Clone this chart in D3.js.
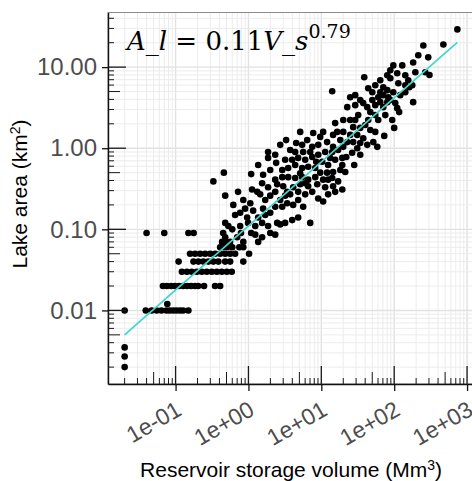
<!DOCTYPE html>
<html>
<head>
<meta charset="utf-8">
<script src="https://cdn.jsdelivr.net/npm/d3@7"></script>
<style>
  body { margin: 0; background: #fff; }
  text { font-family: "Liberation Sans", Arial, sans-serif; }
</style>
</head>
<body>
<svg id="chart" width="472" height="481"></svg>
<script>
// Reservoirs: [storage volume (Mm³), lake area (km²)]
const reservoirs = [
  [0.02,0.01],[0.02,0.0035],[0.02,0.0027],[0.02,0.002],
  [0.039,0.01],[0.047,0.01],[0.055,0.01],[0.064,0.01],[0.075,0.01],[0.083,0.01],[0.093,0.01],[0.103,0.01],[0.115,0.01],[0.127,0.01],[0.15,0.01],
  [0.077,0.012],
  [0.067,0.02],[0.076,0.02],[0.087,0.02],[0.098,0.02],[0.112,0.02],[0.127,0.02],[0.144,0.02],[0.163,0.02],[0.185,0.02],[0.204,0.02],[0.246,0.02],[0.348,0.02],[0.409,0.02],
  [0.122,0.03],[0.143,0.03],[0.167,0.03],[0.196,0.03],[0.229,0.03],[0.268,0.03],[0.314,0.03],[0.368,0.03],[0.431,0.03],[0.505,0.03],[0.59,0.03],
  [0.11,0.04],[0.176,0.04],[0.206,0.04],[0.241,0.04],[0.282,0.04],[0.33,0.04],[0.387,0.04],[0.479,0.04],[0.561,0.04],
  [0.158,0.05],[0.185,0.05],[0.217,0.05],[0.254,0.05],[0.298,0.05],[0.349,0.05],[0.409,0.05],[0.479,0.05],[0.561,0.05],[0.656,0.05],
  [0.409,0.06],[0.45,0.06],[0.51,0.06],[0.6,0.06],
  [0.435,0.07],[0.48,0.07],[0.56,0.07],
  [0.48,0.08],[0.45,0.09],[0.53,0.11],[0.48,0.12],
  [0.04,0.09],[0.07,0.09],[0.15,0.09],[0.177,0.09],
  [0.46,0.50],[1.09,0.48],[0.48,0.26],[0.33,0.39],
  [1.12,0.31],[1.32,0.29],[0.85,0.23],[1.06,0.21],[1.45,0.27],[1.70,0.23],[1.99,0.26],[2.33,0.29],[3.19,0.26],[4.81,0.29],[3.40,0.29],
  [0.77,0.16],[0.96,0.14],[1.16,0.17],[1.36,0.14],[1.59,0.18],[1.99,0.16],[2.33,0.19],[2.91,0.19],[3.40,0.21],[4.11,0.20],[4.81,0.23],
  [0.77,0.11],[0.99,0.12],[1.24,0.11],[1.54,0.12],[1.86,0.11],[2.48,0.12],[3.19,0.12],[3.98,0.13],[4.81,0.14],
  [5.64,0.19],[7.04,0.12],[10.6,0.22],[0.79,0.09],[0.85,0.07],[0.75,0.06],[0.85,0.06],[1.02,0.05],[0.85,0.04],[1.36,0.07],[1.09,0.09],
  [6.01,0.27],[7.5,0.29],[9.07,0.24],[12.4,0.27],[15.5,0.29],[19.4,0.31],
  [1.86,0.90],[1.86,0.76],[4.38,0.90],[5.64,0.90],[3.19,0.72],[3.98,0.72],[4.81,0.76],[6.01,0.72],[7.5,0.78],[9.07,0.83],[11.3,0.90],[14.1,0.90],[17.0,0.95],[10.3,0.68],[12.4,0.62],[15.5,0.72],
  [2.91,0.54],[3.51,0.57],[4.38,0.62],[5.46,0.57],[6.6,0.59],[8.25,0.57],[9.66,0.50],[12.0,0.50],[14.5,0.51],[18.2,0.54],
  [2.33,0.41],[2.91,0.44],[3.51,0.44],[4.38,0.43],[5.46,0.44],[6.6,0.41],[8.25,0.44],[10.6,0.41],[14.1,0.43],[17.0,0.39],
  [2.48,0.36],[3.0,0.34],[4.11,0.33],[5.13,0.36],[6.6,0.34],[8.79,0.36],[11.3,0.33],[14.5,0.34],
  [14.1,5.05],[55,2.56],[60.4,2.23],[15.5,2.04],[20.0,2.23],[24.9,2.23],[27.4,1.82],[20.0,1.59],[16.5,1.59],[40.1,1.93],[47.0,1.68],[55,1.59],
  [5.13,1.59],[7.74,1.54],[10.6,1.59],[14.5,1.46],[24.9,1.46],[31.1,1.46],[37.6,1.33],
  [6.4,1.26],[9.66,1.38],[12.0,1.19],[18.2,1.26],[22.7,1.19],[27.4,1.19],[34.2,1.16],[42.7,1.10],[51.7,1.19],
  [5.46,1.10],[7.5,1.04],[9.07,1.10],[14.5,1.04],[20.0,1.04],[31.1,1.0],[58.6,1.04],[47,2.79],[32.1,2.56],
  [251,18.5],[214,14.0],[293,13.2],[182,11.4],[129,10.5],[97.2,10.5],[88.4,9.15],[110,8.4],[142,7.94],[195,8.65],[267,8.65],[80.4,7.94],[38.8,7.5],[88.4,7.3],[114,6.34],[142,5.99],
  [97.2,4.91],[70.8,5.66],[64.4,4.91],[80.4,5.2],[50.1,4.91],[60.4,4.26],[70.8,4.51],[83,4.26],[24.9,4.26],[34.2,3.92],[37.6,3.6],[64.4,3.7],[80.4,3.7],[103.5,3.6],[182,3.7],
  [29.2,3.4],[22.7,3.21],[42.7,3.21],[70.8,3.21],[110,3.12],[156,6.9],[161,5.66],[736,29.2],[473,19.0],[305,8.0],[88.4,3.92],
  [117,2.79],[100,1.78],[73,1.42],[22,0.78],[26.5,0.88],[34.2,0.83],[28.3,0.62],[19.4,0.62],
  [1.36,0.62],[1.59,0.47],[1.99,0.54],[2.40,0.66],[1.54,0.37],[1.86,0.33],[3.74,0.95],[2.73,1.10],[3.29,1.26],[2.33,0.83],[4.52,1.16],
  [7.04,0.90],[8.51,0.68],[5.13,0.49],[6.01,0.37],[3.74,0.27],[2.73,0.23],[1.70,0.15],[0.90,0.18],[0.656,0.15],[0.62,0.20],[0.72,0.29],
  [0.60,0.10],[0.70,0.08],[1.24,0.086],[1.54,0.08],[1.99,0.09],[2.73,0.115],[2.33,0.086],
  [13.2,0.76],[19.4,0.76],[21.3,0.51],[12.4,0.41],
  [29.2,2.23],[34.2,1.78],[44,2.23],[55,3.40],[75.5,2.56],[94,2.23],[50.1,3.92],[44,5.5],[121,4.51],[142,4.91],[177,5.99],[64.4,6.9],[55,5.99],[29.2,4.51]
];

// Power-law fit A_l = a * V_s^b
const fitCoef = 0.11;
const fitExp = 0.79;

const xTickValues = [0.1, 1, 10, 100, 1000];
const xTickLabels = ["1e-01", "1e+00", "1e+01", "1e+02", "1e+03"];
const yTickValues = [0.01, 0.1, 1, 10];
const yTickLabels = ["0.01", "0.10", "1.00", "10.00"];

const svg = d3.select("#chart");
const W = 472, H = 481;
svg.append("rect").attr("width", W).attr("height", H).attr("fill", "#fff");

const panel = { left: 108, top: 12.5, width: 366, height: 371.5 };
const bottom = panel.top + panel.height;

// log domain expanded by 5% of the data span on each side
function logDomain(vals) {
  const lo = Math.log10(d3.min(vals)), hi = Math.log10(d3.max(vals));
  const pad = (hi - lo) * 0.05;
  return [Math.pow(10, lo - pad), Math.pow(10, hi + pad)];
}

const x = d3.scaleLog()
  .domain(logDomain(reservoirs.map(d => d[0])))
  .range([panel.left, panel.left + panel.width]);
const y = d3.scaleLog()
  .domain(logDomain(reservoirs.map(d => d[1])))
  .range([bottom, panel.top]);

// every 1..9 x 10^k step inside a domain
function logSteps(domain) {
  const out = [];
  const k0 = Math.floor(Math.log10(domain[0])), k1 = Math.ceil(Math.log10(domain[1]));
  for (let k = k0; k <= k1; k++) {
    for (let m = 1; m <= 9; m++) {
      const v = m * Math.pow(10, k);
      if (v >= domain[0] && v <= domain[1]) out.push({ v, m });
    }
  }
  return out;
}
const xSteps = logSteps(x.domain());
const ySteps = logSteps(y.domain());

svg.append("clipPath").attr("id", "panel-clip")
  .append("rect")
  .attr("x", panel.left).attr("y", panel.top)
  .attr("width", panel.width).attr("height", panel.height);

const plot = svg.append("g").attr("clip-path", "url(#panel-clip)");

// grid
plot.append("g").selectAll("line").data(xSteps).join("line")
  .attr("x1", d => x(d.v)).attr("x2", d => x(d.v))
  .attr("y1", panel.top).attr("y2", bottom)
  .attr("stroke", d => d.m === 1 ? "#e2e2e2" : "#eaeaea")
  .attr("stroke-width", d => d.m === 1 ? 1.4 : 0.9);
plot.append("g").selectAll("line").data(ySteps).join("line")
  .attr("y1", d => y(d.v)).attr("y2", d => y(d.v))
  .attr("x1", panel.left).attr("x2", panel.left + panel.width)
  .attr("stroke", d => d.m === 1 ? "#e2e2e2" : "#eaeaea")
  .attr("stroke-width", d => d.m === 1 ? 1.4 : 0.9);

// panel border
svg.append("rect")
  .attr("x", panel.left).attr("y", panel.top)
  .attr("width", panel.width).attr("height", panel.height)
  .attr("fill", "none").attr("stroke", "#8a8a8a").attr("stroke-width", 1);

// points
plot.append("g").selectAll("circle").data(reservoirs).join("circle")
  .attr("cx", d => x(d[0])).attr("cy", d => y(d[1]))
  .attr("r", 3.3).attr("fill", "#000");

// fitted power law across the observed volume range
const vExtent = d3.extent(reservoirs, d => d[0]);
const fitLine = d3.range(0, 21).map(i => {
  const v = Math.pow(10, Math.log10(vExtent[0]) + i / 20 * (Math.log10(vExtent[1]) - Math.log10(vExtent[0])));
  return [v, fitCoef * Math.pow(v, fitExp)];
});
plot.append("path")
  .datum(fitLine)
  .attr("d", d3.line().x(d => x(d[0])).y(d => y(d[1])))
  .attr("fill", "none").attr("stroke", "#3fd6cc").attr("stroke-width", 1.7);

// log tick marks inside the panel
const tickLen = m => m === 1 ? 18 : (m === 5 ? 12 : 6);
svg.append("g").selectAll("line").data(xSteps).join("line")
  .attr("x1", d => x(d.v)).attr("x2", d => x(d.v))
  .attr("y1", bottom).attr("y2", d => bottom - tickLen(d.m))
  .attr("stroke", "#1a1a1a").attr("stroke-width", d => d.m === 1 ? 1.3 : 1);
svg.append("g").selectAll("line").data(ySteps).join("line")
  .attr("y1", d => y(d.v)).attr("y2", d => y(d.v))
  .attr("x1", panel.left).attr("x2", d => panel.left + tickLen(d.m))
  .attr("stroke", "#1a1a1a").attr("stroke-width", d => d.m === 1 ? 1.3 : 1);

// axes
const xAxis = svg.append("g")
  .attr("transform", `translate(0,${bottom})`)
  .call(d3.axisBottom(x).tickValues(xTickValues).tickFormat((d, i) => xTickLabels[i]).tickSize(7).tickSizeOuter(0));
xAxis.select(".domain").attr("stroke", "#111").attr("stroke-width", 1.4);
xAxis.selectAll(".tick line").attr("stroke", "#111").attr("stroke-width", 1.3);
xAxis.selectAll(".tick text")
  .attr("x", 0).attr("y", 0).attr("dy", 0)
  .attr("transform", "translate(7,30) rotate(-30)")
  .attr("text-anchor", "end")
  .attr("fill", "#4d4d4d")
  .style("font-size", "23px")
  .style("font-family", "'Liberation Sans', Arial, sans-serif");

const yAxis = svg.append("g")
  .attr("transform", `translate(${panel.left},0)`)
  .call(d3.axisLeft(y).tickValues(yTickValues).tickFormat((d, i) => yTickLabels[i]).tickSize(6).tickPadding(5).tickSizeOuter(0));
yAxis.select(".domain").attr("stroke", "#111").attr("stroke-width", 1.4);
yAxis.selectAll(".tick line").attr("stroke", "#111").attr("stroke-width", 1.3);
yAxis.selectAll(".tick text")
  .attr("fill", "#4d4d4d")
  .style("font-size", "24px")
  .style("font-family", "'Liberation Sans', Arial, sans-serif");

// axis titles
const xt = svg.append("text")
  .attr("x", 291).attr("y", 477)
  .attr("text-anchor", "middle")
  .style("font-size", "21px").attr("fill", "#000");
xt.append("tspan").text("Reservoir storage volume (Mm");
xt.append("tspan").attr("dy", -7).style("font-size", "14px").text("3");
xt.append("tspan").attr("dy", 7).text(")");

const yt = svg.append("text")
  .attr("transform", "translate(27,194) rotate(-90)")
  .attr("text-anchor", "middle")
  .style("font-size", "21px").attr("fill", "#000");
yt.append("tspan").text("Lake area (km");
yt.append("tspan").attr("dy", -7).style("font-size", "14px").text("2");
yt.append("tspan").attr("dy", 7).text(")");

// fit equation
const eq = svg.append("text")
  .attr("x", 127).attr("y", 50)
  .style("font-family", "'DejaVu Serif', 'Liberation Serif', serif")
  .style("font-size", "26px").attr("fill", "#000");
eq.append("tspan").style("font-style", "italic").text("A");
eq.append("tspan").text("_");
eq.append("tspan").style("font-style", "italic").text("l");
eq.append("tspan").text(" = " + fitCoef.toFixed(2));
eq.append("tspan").style("font-style", "italic").text("V");
eq.append("tspan").text("_");
eq.append("tspan").style("font-style", "italic").text("s");
eq.append("tspan").attr("dy", -12).style("font-size", "19px").text(String(fitExp));
</script>
</body>
</html>
